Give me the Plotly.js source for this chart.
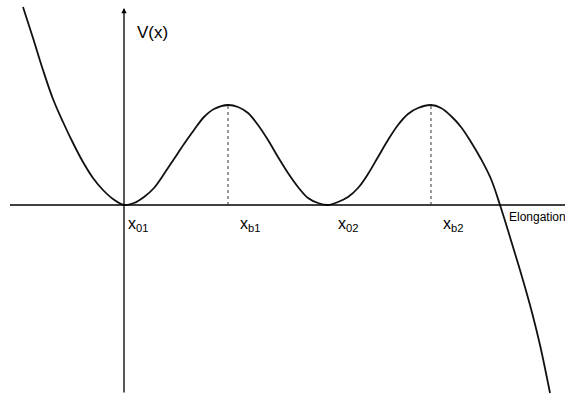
<!DOCTYPE html>
<html>
<head>
<meta charset="utf-8">
<script src="https://cdn.plot.ly/plotly-3.0.1.min.js"></script>
<style>html,body{margin:0;padding:0;background:#fff;}#chart{width:565px;height:398px;}</style>
</head>
<body>
<div id="chart"></div>
<script>
// Potential curve V(x) (x: elongation, V: potential)
const elongation = [-1.01,-0.91,-0.81,-0.71,-0.61,-0.51,-0.41,-0.31,-0.21,-0.11,0.00,
  0.10,0.20,0.30,0.40,0.50,0.60,0.70,0.80,0.90,1.04,
  1.14,1.24,1.34,1.44,1.54,1.64,1.74,1.84,1.94,2.04,
  2.14,2.24,2.34,2.44,2.54,2.64,2.74,2.84,2.94,3.07,
  3.17,3.27,3.37,3.47,3.57,3.67,3.76,3.86,3.96,4.06,4.16,4.26];
const potential  = [1.98,1.67,1.35,1.06,0.83,0.62,0.43,0.27,0.15,0.06,0.00,
  0.02,0.08,0.17,0.31,0.46,0.61,0.75,0.88,0.96,1.00,
  0.98,0.92,0.80,0.65,0.48,0.32,0.18,0.07,0.02,0.00,
  0.03,0.08,0.17,0.31,0.48,0.65,0.80,0.91,0.97,1.00,
  0.97,0.89,0.78,0.63,0.46,0.26,0.00,-0.32,-0.65,-1.00,-1.40,-1.88];

// Special points: minima and barriers
const pointLabels = ["x<sub>01</sub>", "x<sub>b1</sub>", "x<sub>02</sub>", "x<sub>b2</sub>"];
const pointX = [0.00, 1.04, 2.04, 3.07];
const barrierX = [1.04, 3.07];
const barrierV = [1.00, 1.00];
const axisTitleX = "Elongation";
const axisTitleY = "V(x)";

const font = "Arial, 'Liberation Sans', sans-serif";
const labelOffsets = [0.135, 0.215, 0.20, 0.22];

const shapes = [
  {type:'line', xref:'x', yref:'y', x0:-1.14, x1:4.45, y0:0, y1:0, line:{color:'#000', width:1.3}}
];
barrierX.forEach((bx,i)=>{
  shapes.push({type:'line', xref:'x', yref:'y', x0:bx, x1:bx, y0:0, y1:barrierV[i], line:{color:'#333', width:1, dash:'dot'}});
});

const annotations = [
  {x:0, y:1.97, ax:0, ay:-1.89, xref:'x', yref:'y', axref:'x', ayref:'y', text:'', showarrow:true,
   arrowhead:2, arrowsize:0.8, arrowwidth:1.3, arrowcolor:'#000'},
  {x:0.11, y:1.73, xref:'x', yref:'y', text:axisTitleY, showarrow:false, xanchor:'left', yanchor:'middle',
   font:{family:font, size:17, color:'#000'}},
  {x:3.83, y:-0.12, xref:'x', yref:'y', text:axisTitleX, showarrow:false, xanchor:'left', yanchor:'middle',
   font:{family:font, size:12, color:'#000'}}
];
pointLabels.forEach((t,i)=>{
  annotations.push({x:pointX[i]+labelOffsets[i], y:-0.08, xref:'x', yref:'y', text:t, showarrow:false,
    xanchor:'center', yanchor:'top', font:{family:font, size:16, color:'#000'}});
});

const trace = {x:elongation, y:potential, type:'scatter', mode:'lines',
  line:{color:'#111', width:1.8, shape:'spline', smoothing:1}, hoverinfo:'skip'};

const layout = {
  width:565, height:398, margin:{l:0,r:0,t:0,b:0},
  paper_bgcolor:'#fff', plot_bgcolor:'#fff', showlegend:false,
  xaxis:{range:[-1.24,4.41], visible:false, fixedrange:true},
  yaxis:{range:[-1.93,2.05], visible:false, fixedrange:true},
  shapes:shapes, annotations:annotations
};
Plotly.newPlot('chart', [trace], layout, {staticPlot:true, displayModeBar:false});
</script>
</body>
</html>
